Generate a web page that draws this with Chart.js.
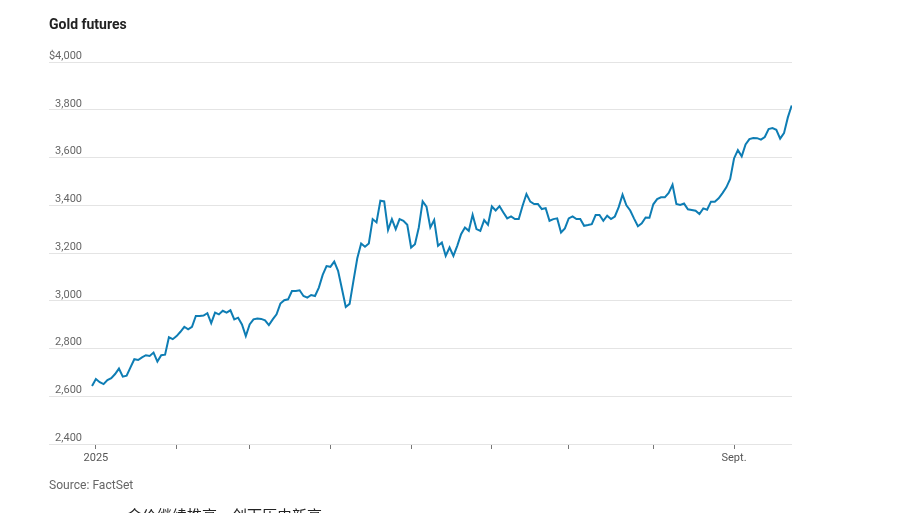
<!DOCTYPE html>
<html>
<head>
<meta charset="utf-8">
<script src="https://cdn.jsdelivr.net/npm/chart.js@4.4.1/dist/chart.umd.min.js"></script>
<style>
  html, body { margin: 0; padding: 0; background: #fff; overflow: hidden; }
  #wrap { position: relative; width: 900px; height: 513px; overflow: hidden; }
  #chart { position: absolute; left: 0; top: 0; }
  .title { position: absolute; left: 49px; top: 16px; font: bold 14px Roboto, "Liberation Sans", sans-serif; color: #222; }
  .source { position: absolute; left: 49px; top: 477px; font: 13px Roboto, sans-serif; color: #666; transform: scaleX(0.93); transform-origin: left top; }
  .caption { position: absolute; left: 127px; top: 504px; font: 15px "Noto Sans CJK SC", sans-serif; color: #222; white-space: nowrap; }
</style>
</head>
<body>
<div id="wrap">
  <canvas id="chart" width="900" height="513"></canvas>
  <div class="title">Gold futures</div>
  <div class="source">Source: FactSet</div>
  <div class="caption">金价继续推高，创下历史新高</div>
</div>
<script>
// daily settle, one value per trading day (Dec 31 2024 -> Sept 23 2025)
const dec2024 = [2643];
const jan = [2672, 2659, 2651, 2668, 2676, 2693, 2716, 2682, 2686, 2721, 2755, 2752, 2763, 2772, 2769, 2783, 2745, 2772, 2774, 2847, 2839];
const feb = [2852, 2870, 2891, 2880, 2891, 2936, 2936, 2938, 2948, 2906, 2950, 2943, 2958, 2950, 2960, 2922, 2929, 2901, 2852];
const mar = [2901, 2922, 2926, 2924, 2918, 2898, 2922, 2943, 2988, 3002, 3006, 3041, 3041, 3044, 3020, 3013, 3024, 3020, 3055, 3108, 3145];
const apr = [3142, 3164, 3125, 3050, 2974, 2987, 3083, 3178, 3240, 3226, 3240, 3342, 3328, 3419, 3416, 3296, 3342, 3300, 3342, 3335, 3318];
const may = [3223, 3237, 3307, 3416, 3394, 3307, 3338, 3230, 3244, 3188, 3223, 3188, 3230, 3279, 3307, 3293, 3360, 3300, 3293, 3338, 3318];
const jun = [3395, 3378, 3396, 3370, 3345, 3353, 3342, 3342, 3398, 3447, 3415, 3405, 3405, 3384, 3388, 3335, 3342, 3345, 3286, 3303];
const jul = [3345, 3353, 3342, 3342, 3314, 3317, 3321, 3359, 3359, 3335, 3356, 3342, 3353, 3392, 3444, 3400, 3378, 3344, 3312, 3324, 3349, 3348];
const aug = [3404, 3426, 3433, 3433, 3452, 3486, 3405, 3401, 3407, 3383, 3380, 3377, 3363, 3387, 3381, 3415, 3415, 3429, 3451, 3475, 3510];
const sep = [3596, 3631, 3605, 3655, 3677, 3682, 3681, 3675, 3686, 3719, 3723, 3716, 3679, 3702, 3768, 3818];

const months = [jan, feb, mar, apr, may, jun, jul, aug, sep];
const monthLabels = ["2025", "", "", "", "", "", "", "", "Sept."];
const yTicks = [2400, 2600, 2800, 3000, 3200, 3400, 3600, 3800, 4000];

// first trading day of each month -> tick position
const monthStart = [];
let n = dec2024.length;
months.forEach(m => { monthStart.push(n); n += m.length; });

const values = dec2024.concat(...months);
const points = values.map((v, i) => ({ x: i, y: v }));

const tickFont = { family: "Roboto, 'DejaVu Sans Condensed', sans-serif", size: 11 };

new Chart(document.getElementById("chart"), {
    type: "line",
    data: {
        datasets: [{
            data: points,
            borderColor: "#0e7db4",
            borderWidth: 2,
            pointRadius: 0,
            tension: 0,
            fill: false,
        }],
    },
    options: {
        responsive: false,
        animation: false,
        layout: { padding: { top: 62, right: 108, bottom: 39, left: 0 } },
        plugins: { legend: { display: false }, tooltip: { enabled: false } },
        scales: {
            x: {
                type: "linear",
                min: -1.05,
                max: values.length - 0.92,
                afterBuildTicks: s => { s.ticks = monthStart.map(v => ({ value: v })); },
                afterFit: s => { s.height = 30; },
                border: { display: false },
                grid: { drawOnChartArea: false, drawTicks: true, tickLength: 5, color: "#777", tickColor: "#777" },
                ticks: {
                    autoSkip: false,
                    maxRotation: 0,
                    padding: 3,
                    color: "#555",
                    font: tickFont,
                    callback: (v, i) => monthLabels[i],
                },
            },
            y: {
                min: 2400,
                max: 4000,
                afterBuildTicks: s => { s.ticks = yTicks.map(v => ({ value: v })); },
                afterFit: s => { s.width = 88; },
                border: { display: false },
                grid: { color: "#e4e4e4", drawTicks: true, tickLength: 39 },
                ticks: {
                    padding: -33,
                    labelOffset: -6,
                    crossAlign: "near",
                    color: "#666",
                    font: tickFont,
                    callback: v => v === 4000 ? "$4,000" : v.toLocaleString("en-US"),
                },
            },
        },
    },
});
</script>
</body>
</html>
